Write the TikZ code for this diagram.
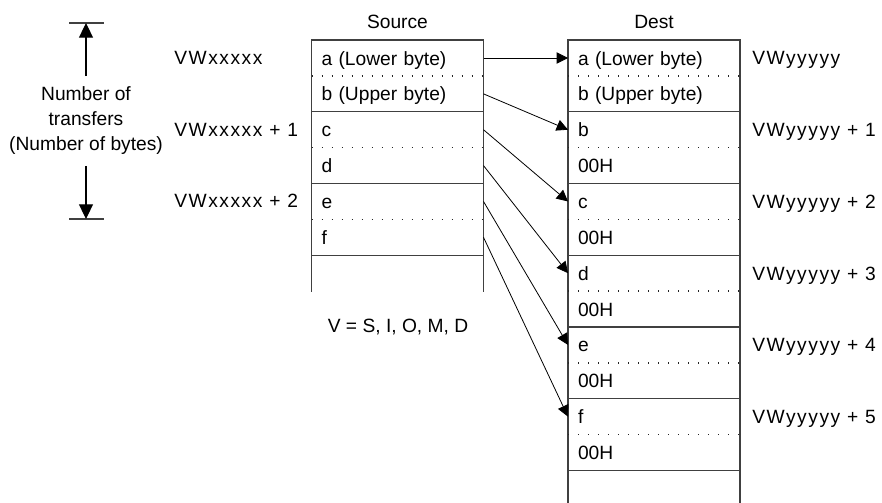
\documentclass[tikz,border=0pt]{standalone}
\usepackage{fontspec}
\setmainfont{Liberation Sans}
\newfontfamily\addrfont[LetterSpace=8]{Liberation Sans}
\usetikzlibrary{arrows.meta,positioning}
\tikzset{
  memcell/.style={rectangle, inner xsep=7.5pt, inner ysep=0pt, outer sep=0pt, minimum width=129pt, minimum height=26.9pt, text width=114pt, text height=12pt, text depth=1.5pt, align=left, font=\fontsize{14.4}{17}\selectfont},
  memtitle/.style={font=\fontsize{14.4}{17}\selectfont},
  addrlabel/.style={anchor=west, inner sep=0pt, text height=10.3pt, text depth=0pt, font=\addrfont\fontsize{14.4}{17}\selectfont},
  dimlabel/.style={align=center, inner xsep=2pt, inner ysep=8pt, font=\fontsize{14.4}{18.75}\selectfont},
  boxline/.style={draw=black!75, line width=0.9pt},
  sepline/.style={draw=black!85, line width=1pt, dash pattern=on 1pt off 6.5pt},
  linkarrow/.style={-{Triangle[length=8.5pt,width=8.5pt]}, line width=0.6pt},
  dimarrow/.style={-{Triangle[length=11pt,width=10.5pt]}, line width=0.8pt}
}
\begin{document}
\begin{tikzpicture}[x=0.75pt, y=-0.75pt]
\useasboundingbox (0,0) rectangle (882,503);
\node[memcell] (s0) at (397.5,58) {a (Lower byte)};
\node[memcell, below=0pt of s0] (s1) {b (Upper byte)};
\node[memcell, below=0pt of s1] (s2) {c};
\node[memcell, below=0pt of s2] (s3) {d};
\node[memcell, below=0pt of s3] (s4) {e};
\node[memcell, below=0pt of s4] (s5) {f};
\node[memcell] (d0) at (654,58) {a (Lower byte)};
\node[memcell, below=0pt of d0] (d1) {b (Upper byte)};
\node[memcell, below=0pt of d1] (d2) {b};
\node[memcell, below=0pt of d2] (d3) {00H};
\node[memcell, below=0pt of d3] (d4) {c};
\node[memcell, below=0pt of d4] (d5) {00H};
\node[memcell, below=0pt of d5] (d6) {d};
\node[memcell, below=0pt of d6] (d7) {00H};
\node[memcell, below=0pt of d7] (d8) {e};
\node[memcell, below=0pt of d8] (d9) {00H};
\node[memcell, below=0pt of d9] (d10) {f};
\node[memcell, below=0pt of d10] (d11) {00H};
\node[memtitle, above=5pt of s0] (srctitle) {Source};
\node[memtitle, above=5pt of d0] (dsttitle) {Dest};
\node[addrlabel] (x0) at (174,58) {VWxxxxx};
\node[addrlabel] (x1) at (174,130) {VWxxxxx + 1};
\node[addrlabel] (x2) at (174,201) {VWxxxxx + 2};
\node[addrlabel, right=9pt of d0] (y0) {VWyyyyy};
\node[addrlabel, right=9pt of d2] (y1) {VWyyyyy + 1};
\node[addrlabel, right=9pt of d4] (y2) {VWyyyyy + 2};
\node[addrlabel, right=9pt of d6] (y3) {VWyyyyy + 3};
\node[addrlabel, right=9pt of d8] (y4) {VWyyyyy + 4};
\node[addrlabel, right=9pt of d10] (y5) {VWyyyyy + 5};
\node[memtitle] (vnote) at (398,327) {V = S, I, O, M, D};
\node[dimlabel] (dimtxt) at (86,121) {Number of\\transfers\\(Number of bytes)};
\coordinate (dimtop) at (86,23);
\coordinate (dimbot) at (86,219);
\foreach \hi/\lo in {s0/s1,s2/s3,s4/s5,d0/d1,d2/d3,d4/d5,d6/d7,d8/d9,d10/d11} {
  \draw[boxline] (\hi.north west) rectangle (\lo.south east);
  \draw[sepline] (\hi.south west) -- (\hi.south east);
}
\draw[boxline] (s5.south west) -- ++(0,37);
\draw[boxline] (s5.south east) -- ++(0,37);
\draw[boxline] (d11.south west) -- ++(0,35);
\draw[boxline] (d11.south east) -- ++(0,35);
\draw[boxline] (dimtop) ++(-17,0) -- ++(35,0);
\draw[boxline] (dimbot) ++(-17,0) -- ++(35,0);
\draw[dimarrow] (dimtxt.north) -- (dimtop);
\draw[dimarrow] (dimtxt.south) -- (dimbot);
\draw[linkarrow] (s0.east) -- (d0.west);
\draw[linkarrow] (s1.east) -- (d2.west);
\draw[linkarrow] (s2.east) -- (d4.west);
\draw[linkarrow] (s3.east) -- (d6.west);
\draw[linkarrow] (s4.east) -- (d8.west);
\draw[linkarrow] (s5.east) -- (d10.west);
\end{tikzpicture}
\end{document}
